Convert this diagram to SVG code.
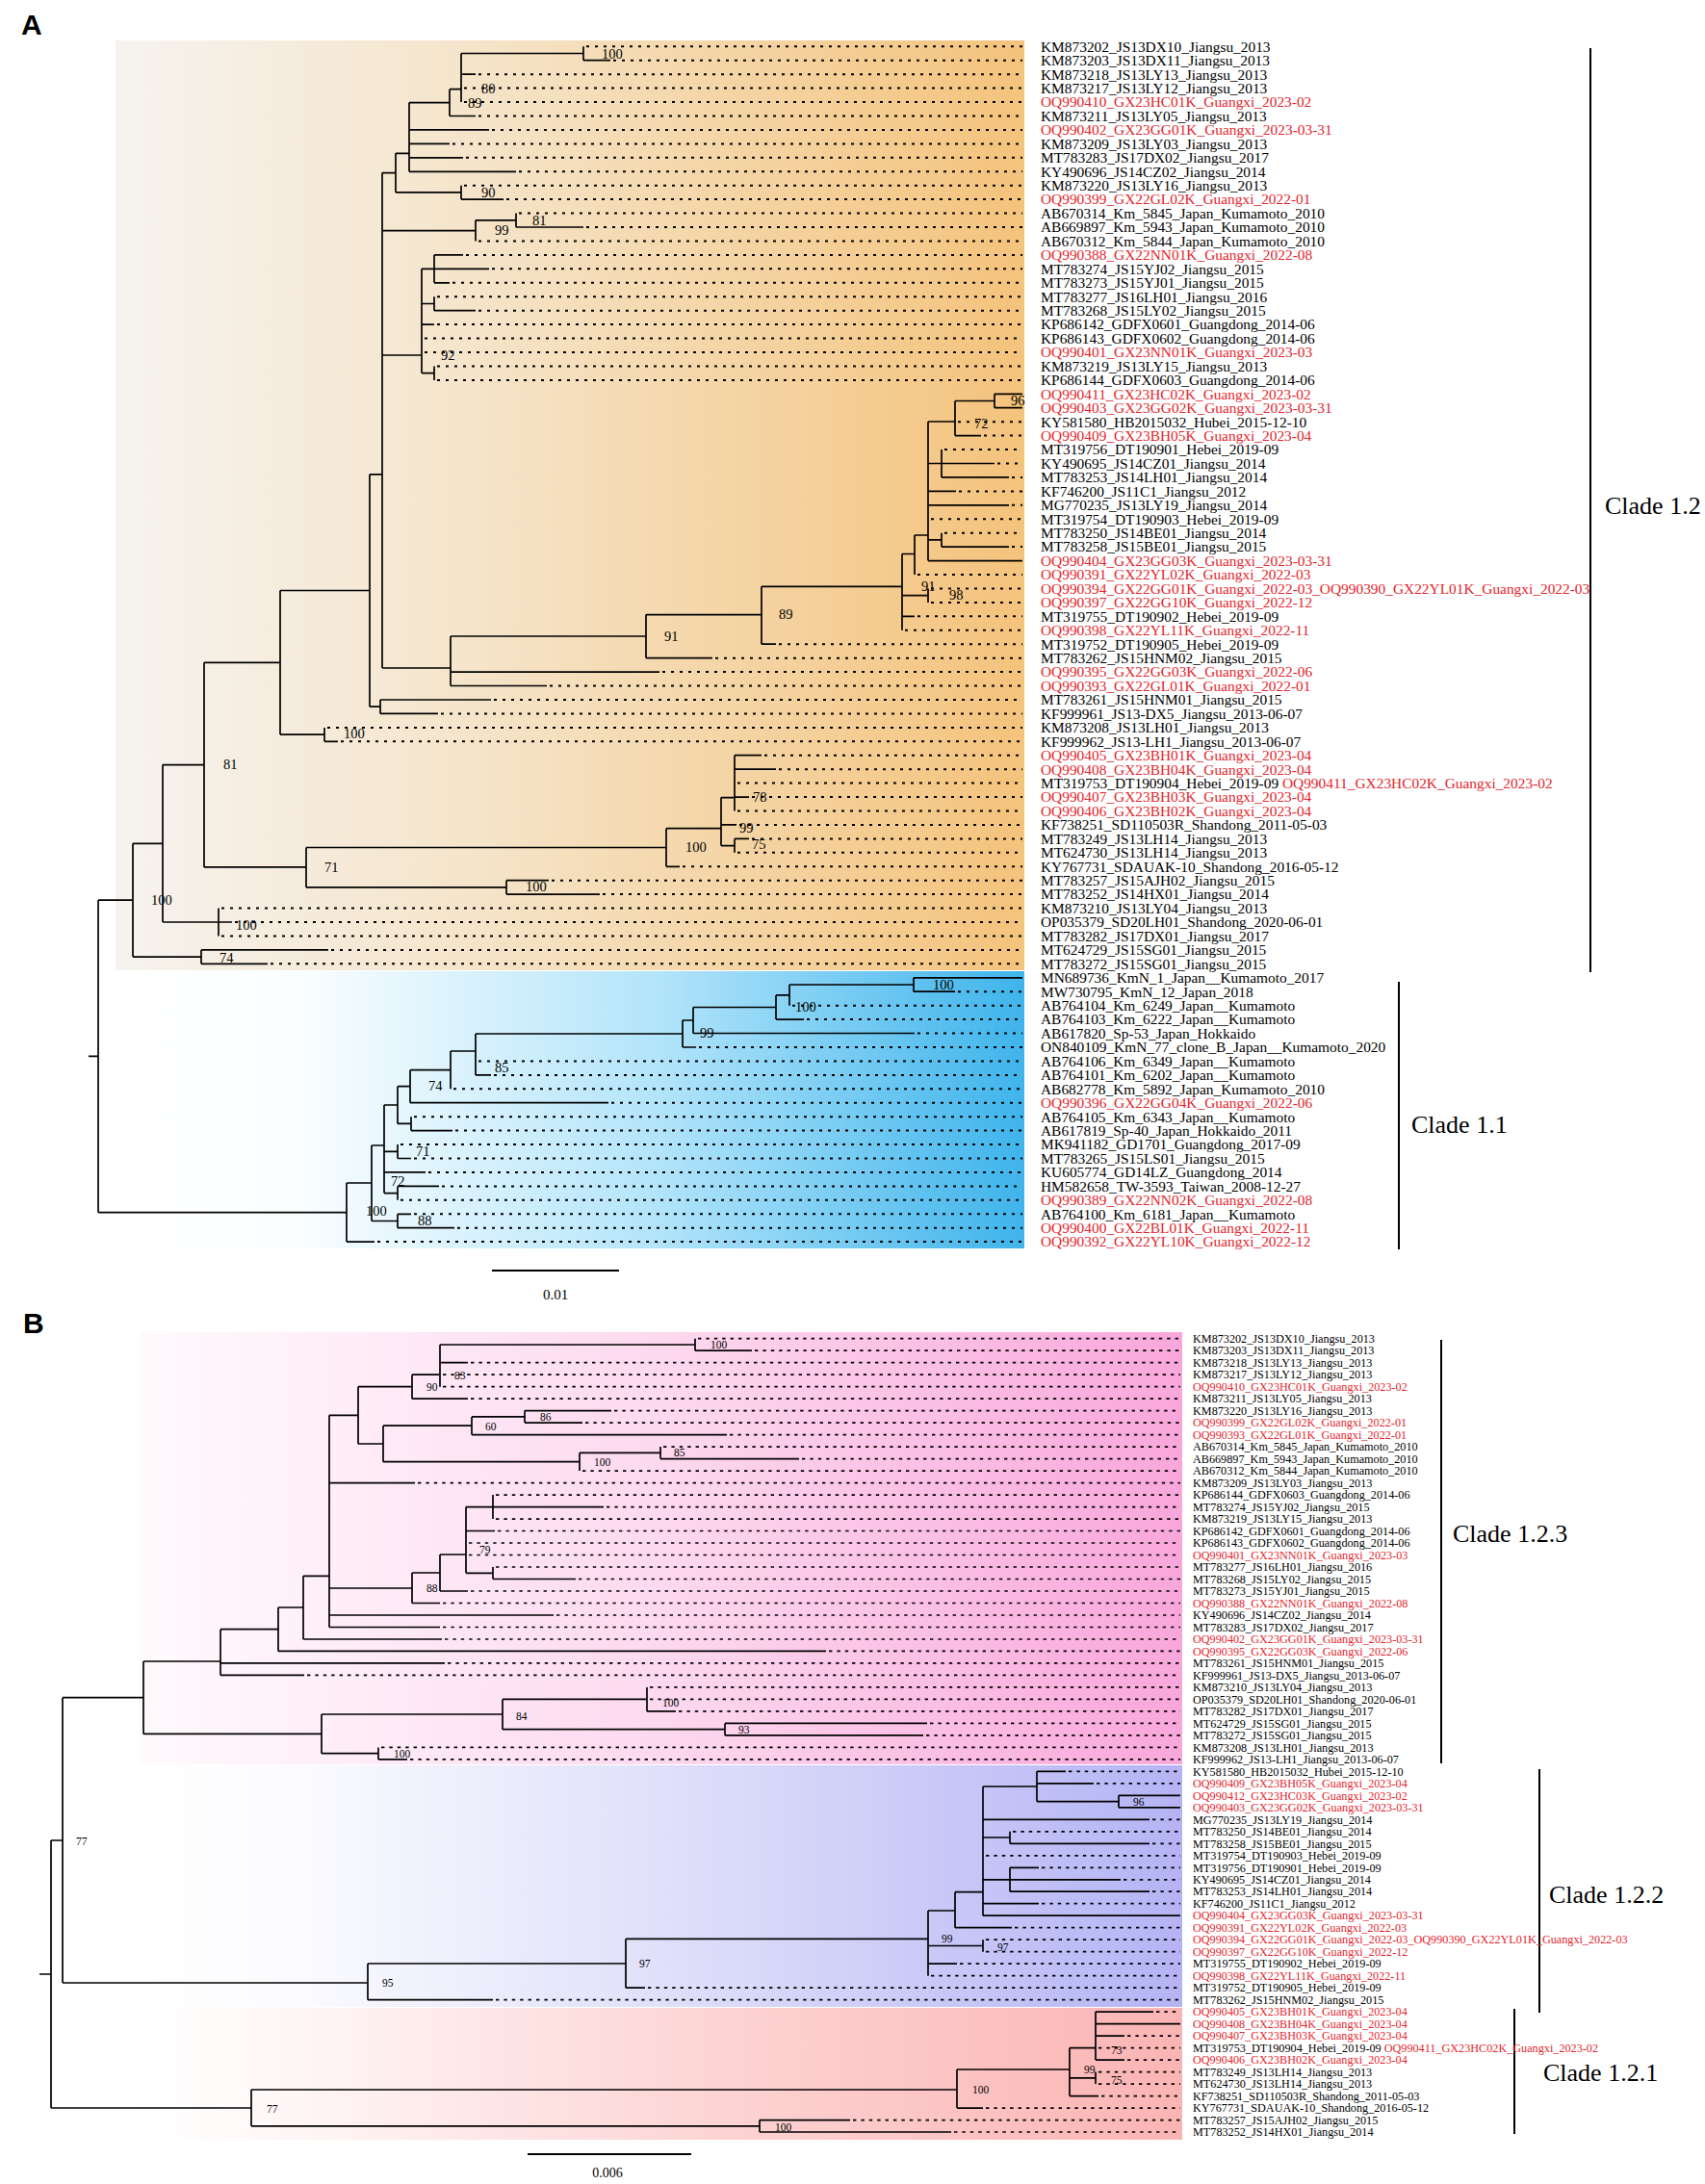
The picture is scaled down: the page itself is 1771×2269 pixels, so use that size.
<svg xmlns="http://www.w3.org/2000/svg" width="1771" height="2269" viewBox="0 0 1771 2269">
<defs>
<linearGradient id="gOr" x1="0" y1="0" x2="1" y2="0"><stop offset="0" stop-color="#f6f3ef"/><stop offset="0.4" stop-color="#f5e4c9"/><stop offset="1" stop-color="#f4c37c"/></linearGradient>
<linearGradient id="gBl" x1="0" y1="0" x2="1" y2="0"><stop offset="0" stop-color="#ffffff"/><stop offset="0.2" stop-color="#fbfeff"/><stop offset="0.6" stop-color="#b2e4fa"/><stop offset="1" stop-color="#3fb4eb"/></linearGradient>
<linearGradient id="gPk" x1="0" y1="0" x2="1" y2="0"><stop offset="0" stop-color="#fffafd"/><stop offset="0.5" stop-color="#fdd9ef"/><stop offset="1" stop-color="#f9a7db"/></linearGradient>
<linearGradient id="gPu" x1="0" y1="0" x2="1" y2="0"><stop offset="0" stop-color="#ffffff"/><stop offset="0.15" stop-color="#fbfbff"/><stop offset="0.55" stop-color="#dcdcfa"/><stop offset="1" stop-color="#b4b4f5"/></linearGradient>
<linearGradient id="gSa" x1="0" y1="0" x2="1" y2="0"><stop offset="0" stop-color="#ffffff"/><stop offset="0.15" stop-color="#fff6f6"/><stop offset="0.55" stop-color="#fdd4d4"/><stop offset="1" stop-color="#fbb4b4"/></linearGradient>
</defs>
<style>
.br{fill:none;stroke:#000;stroke-width:1.7}
.dt{fill:none;stroke:#000;stroke-width:2;stroke-dasharray:3 6}
.dtB{fill:none;stroke:#000;stroke-width:1.7;stroke-dasharray:3.4 5}
.bar{fill:none;stroke:#000;stroke-width:2}
text{font-family:"Liberation Serif","Times New Roman",serif;fill:#000}
.la{font-size:15.4px}
.lb{font-size:12.2px}
.r{fill:#e3262d}
.bs{font-size:14.5px}
.bsB{font-size:11.5px}
.cl{font-size:26px}
.pn{font-family:"Liberation Sans",Arial,sans-serif;font-weight:bold;font-size:30px}
</style>
<rect x="0" y="0" width="1771" height="2269" fill="#fff"/>
<g id="backgrounds">
<rect x="120" y="42" width="944" height="966" fill="url(#gOr)"/>
<rect x="120" y="1009" width="944" height="288" fill="url(#gBl)"/>
<rect x="145" y="1384" width="1083" height="449" fill="url(#gPk)"/>
<rect x="145" y="1834" width="1083" height="251" fill="url(#gPu)"/>
<rect x="145" y="2086" width="1083" height="137" fill="url(#gSa)"/>
</g>
<text class="pn" x="22" y="36">A</text>
<text class="pn" x="24" y="1385">B</text>
<g id="connectors">
<path class="br" d="M102 935.2V1259.6M138 876.3V994.1M169 794.6V958M212 688.3V900.9M291 613.5V763.1M384 492.8V734.2M395 727V741.4M397 179.6V694M411 159.3V199.9M425 106.6V178.3M467 92.7V120.5M479 55.5V106.1M606 48.3V62.7M479 192.7V207.1M494 228.8V250.5M536 221.6V236M438 279.3V387.6M451 264.9V293.8M451 308.2V322.7M451 380.4V394.9M468 661V712.5M671 638.6V683.7M791 609.3V669.2M937 575.5V654.8M950 556V597M964 438V582.6M992 416.5V452.6M1033 409.3V423.7M978 467.1V495.9M978 553.7V568.1M964 611.5V625.9M337 755.9V770.3M318 880.5V921.9M692 860.7V900.3M749 828.6V878.6M763 784.7V842.5M763 871.4V885.8M526 914.7V929.1M227 943.6V972.5M209 986.9V1001.3M360 1229V1290.1M386 1190V1268.5M399 1148V1239.6M413 1128.7V1167.4M426 1111.7V1145.7M468 1092V1131.3M494 1074V1116.9M709 1060V1088M720 1046.5V1073.5M806 1033.9V1059.1M820 1023V1044.7M949 1015.8V1030.2M427 1160.2V1174.6M413 1189.1V1203.5M413 1232.4V1246.8M413 1261.3V1275.7"/>
<path class="br" d="M92 1097.4H102M102 935.2H138M102 1259.6H360M138 876.3H169M138 994.1H209M169 794.6H212M169 958H227M212 688.3H291M212 900.9H318M291 613.5H384M291 763.1H337M384 492.8H397M384 734.2H395M397 179.6H411M397 239.6H494M397 369H438M397 694H468M411 159.3H425M411 199.9H479M425 106.6H467M467 92.7H479M479 55.5H606M494 228.8H536M438 279.3H451M438 315.5H451M438 387.6H451M468 661H671M671 638.6H791M791 609.3H937M937 575.5H950M937 618.7H964M950 556H964M964 438H992M964 481.5H978M964 560.9H978M992 416.5H1033M318 880.5H692M318 921.9H526M692 860.7H749M749 828.6H763M749 878.6H763M360 1229H386M386 1190H399M386 1268.5H413M399 1148H413M399 1196.3H413M399 1239.6H413M413 1128.7H426M413 1167.4H427M426 1111.7H468M468 1092H494M494 1074H709M709 1060H720M720 1046.5H806M806 1033.9H820M820 1023H949"/>
<path class="br" d="M606 62.7H634M479 77.2H494M467 120.5H494M425 134.9H508M425 149.4H467M425 163.8H481M425 178.3H536M479 207.1H523M536 236H606M451 264.9H481M451 279.3H508M451 293.8H467M451 322.7H494M438 337.1H451M1033 409.3H1062M1033 423.7H1062M992 452.6H1019M978 481.5H1033M978 495.9H1048M964 510.4H993M964 524.8H1048M978 568.1H1048M964 582.6H1062M937 640.3H950M791 669.2H806M671 683.7H740M468 698.1H685M468 712.5H568M395 727H510M395 741.4H455M337 770.3H351M763 784.7H791M763 799.2H806M763 828.1H778M749 856.9H765M763 871.4H778M692 900.3H706M526 914.7H570M526 929.1H623M227 958H241M209 986.9H341M209 1001.3H278M949 1015.8H1062M949 1030.2H992M806 1059.1H835M720 1073.5H950M709 1088H723M494 1116.9H510M426 1145.7H632M427 1174.6H470M413 1203.5H427M399 1217.9H442M413 1232.4H456M413 1261.3H427M413 1275.7H472M360 1290.1H389"/>
<path class="dt" d="M609 48.3H1062M637 62.7H1062M497 77.2H1062M482 91.6H1062M482 106.1H1062M497 120.5H1062M511 134.9H1062M470 149.4H1062M484 163.8H1062M539 178.3H1062M482 192.7H1062M526 207.1H1062M539 221.6H1062M609 236H1062M497 250.5H1062M484 264.9H1062M511 279.3H1062M470 293.8H1062M454 308.2H1062M497 322.7H1062M454 337.1H1062M441 351.5H1062M441 366H1062M454 380.4H1062M454 394.9H1062M995 438.2H1062M1022 452.6H1062M981 467.1H1062M1036 481.5H1062M1051 495.9H1062M996 510.4H1062M1051 524.8H1062M967 539.3H1062M981 553.7H1062M1051 568.1H1062M953 597H1062M967 611.5H1062M967 625.9H1062M953 640.3H1062M940 654.8H1062M809 669.2H1062M743 683.7H1062M688 698.1H1062M571 712.5H1062M513 727H1062M458 741.4H1062M340 755.9H1062M354 770.3H1062M794 784.7H1062M809 799.2H1062M766 813.6H1062M781 828.1H1062M766 842.5H1062M768 856.9H1062M781 871.4H1062M766 885.8H1062M709 900.3H1062M573 914.7H1062M626 929.1H1062M230 943.6H1062M244 958H1062M230 972.5H1062M344 986.9H1062M281 1001.3H1062M995 1030.2H1062M823 1044.7H1062M838 1059.1H1062M953 1073.5H1062M726 1088H1062M497 1102.4H1062M513 1116.9H1062M471 1131.3H1062M635 1145.7H1062M430 1160.2H1062M473 1174.6H1062M416 1189.1H1062M430 1203.5H1062M445 1217.9H1062M459 1232.4H1062M416 1246.8H1062M430 1261.3H1062M475 1275.7H1062M392 1290.1H1062"/>
<path class="br" d="M722 1390.7V1403.2M457 1397V1440.7M428 1428.2V1453.2M545 1465.6V1478.1M490 1471.9V1490.6M686 1503.1V1515.6M602 1509.4V1528.1M398 1481.2V1518.7M372 1440.7V1500M512 1553.1V1578.1M484 1565.6V1634.3M512 1628V1640.5M457 1615V1653M428 1634V1665.5M342 1470.3V1690.5M315 1637.3V1703M289 1670V1715.4M229 1692.7V1740.4M672 1752.9V1777.9M753 1790.4V1802.9M522 1765.4V1796.7M393 1815.4V1827.9M334 1781V1821.7M149 1726V1801.4M65 1763.7V2060M1162 1865.3V1877.8M1077 1840.3V1871.6M1049 1902.8V1915.3M1049 1940.3V1965.2M1021 1856V1990.2M992 1965.7V2002.7M1021 2015.2V2027.7M964 1985V2052.7M650 2014.3V2065.2M382 2040V2077.7M1138 2090.1V2140.1M1138 2152.6V2165.1M1111 2127.6V2177.6M994 2150V2190.1M789 2202.6V2215M261 2171V2208.8M53 1912V2190"/>
<path class="br" d="M41 2051H53M53 1912H65M53 2190H261M65 1763.7H149M65 2060H382M149 1726H229M149 1801.4H334M229 1692.7H289M289 1670H315M315 1637.3H342M342 1470.3H372M342 1650H428M372 1440.7H428M372 1500H398M428 1428.2H457M457 1397H722M398 1481.2H490M398 1518.7H602M490 1471.9H545M602 1509.4H686M428 1634H457M457 1615H484M484 1565.6H512M484 1634.3H512M334 1781H522M334 1821.7H393M522 1765.4H672M522 1796.7H753M382 2040H650M650 2014.3H964M964 1985H992M964 2021.5H1021M992 1965.7H1021M1021 1856H1077M1021 1909H1049M1021 1952.8H1049M1077 1871.6H1162M261 2171H994M261 2208.8H789M994 2150H1111M1111 2127.6H1138M1111 2158.9H1138"/>
<path class="br" d="M722 1403.2H781M457 1415.7H486M428 1453.2H486M545 1465.6H635M545 1478.1H605M490 1490.6H755M686 1515.6H830M342 1540.6H431M512 1565.6H627M484 1590.5H514M512 1640.5H598M457 1653H486M428 1665.5H457M342 1678H575M342 1690.5H457M315 1703H459M289 1715.4H858M229 1727.9H462M229 1740.4H316M672 1777.9H702M753 1790.4H963M753 1802.9H959M393 1827.9H423M1077 1840.3H1107M1077 1852.8H1136M1162 1865.3H1226M1162 1877.8H1226M1021 1890.3H1194M1049 1915.3H1194M1049 1940.3H1079M1049 1952.8H1164M1049 1965.2H1194M1021 1977.7H1079M1021 1990.2H1226M992 2002.7H1051M964 2040.2H994M650 2065.2H670M382 2077.7H512M1138 2090.1H1198M1138 2102.6H1226M1138 2115.1H1168M1138 2140.1H1168M1111 2177.6H1141M994 2190.1H1021M789 2202.6H883M789 2215H988"/>
<path class="dtB" d="M725 1390.7H1226M784 1403.2H1226M489 1415.7H1226M460 1428.2H1226M460 1440.7H1226M489 1453.2H1226M638 1465.6H1226M608 1478.1H1226M758 1490.6H1226M689 1503.1H1226M833 1515.6H1226M605 1528.1H1226M434 1540.6H1226M515 1553.1H1226M630 1565.6H1226M515 1578.1H1226M517 1590.5H1226M487 1603H1226M487 1615.5H1226M515 1628H1226M601 1640.5H1226M489 1653H1226M460 1665.5H1226M578 1678H1226M460 1690.5H1226M462 1703H1226M861 1715.4H1226M465 1727.9H1226M319 1740.4H1226M675 1752.9H1226M675 1765.4H1226M705 1777.9H1226M966 1790.4H1226M962 1802.9H1226M396 1815.4H1226M426 1827.9H1226M1110 1840.3H1226M1139 1852.8H1226M1197 1890.3H1226M1052 1902.8H1226M1197 1915.3H1226M1024 1927.8H1226M1082 1940.3H1226M1167 1952.8H1226M1197 1965.2H1226M1082 1977.7H1226M1054 2002.7H1226M1024 2015.2H1226M1024 2027.7H1226M997 2040.2H1226M967 2052.7H1226M673 2065.2H1226M515 2077.7H1226M1201 2090.1H1226M1171 2115.1H1226M1141 2127.6H1226M1171 2140.1H1226M1141 2152.6H1226M1141 2165.1H1226M1144 2177.6H1226M1024 2190.1H1226M886 2202.6H1226M991 2215H1226"/>
</g>
<g id="bootstrap-A">
<text class="bs" x="625" y="61">100</text><text class="bs" x="500" y="97">80</text><text class="bs" x="486" y="112">89</text><text class="bs" x="500" y="205">90</text><text class="bs" x="514" y="244">99</text><text class="bs" x="553" y="234">81</text><text class="bs" x="458" y="374">92</text><text class="bs" x="1050" y="421">96</text><text class="bs" x="1012" y="445">72</text><text class="bs" x="957" y="614">91</text><text class="bs" x="986" y="623">98</text><text class="bs" x="809" y="643">89</text><text class="bs" x="690" y="666">91</text><text class="bs" x="357" y="767">100</text><text class="bs" x="232" y="799">81</text><text class="bs" x="782" y="833">78</text><text class="bs" x="768" y="865">99</text><text class="bs" x="781" y="882">75</text><text class="bs" x="712" y="885">100</text><text class="bs" x="337" y="906">71</text><text class="bs" x="546" y="926">100</text><text class="bs" x="157" y="940">100</text><text class="bs" x="245" y="966">100</text><text class="bs" x="228" y="1000">74</text><text class="bs" x="969" y="1028">100</text><text class="bs" x="826" y="1051">100</text><text class="bs" x="727" y="1078">99</text><text class="bs" x="514" y="1114">85</text><text class="bs" x="445" y="1133">74</text><text class="bs" x="432" y="1201">71</text><text class="bs" x="406" y="1232">72</text><text class="bs" x="434" y="1273">88</text><text class="bs" x="380" y="1263">100</text>
</g>
<g id="bootstrap-B">
<text class="bsB" x="738" y="1401">100</text><text class="bsB" x="472" y="1433">83</text><text class="bsB" x="443" y="1445">90</text><text class="bsB" x="561" y="1476">86</text><text class="bsB" x="504" y="1486">60</text><text class="bsB" x="700" y="1513">85</text><text class="bsB" x="617" y="1523">100</text><text class="bsB" x="498" y="1614">79</text><text class="bsB" x="443" y="1654">88</text><text class="bsB" x="688" y="1773">100</text><text class="bsB" x="536" y="1787">84</text><text class="bsB" x="767" y="1801">93</text><text class="bsB" x="409" y="1826">100</text><text class="bsB" x="79" y="1917">77</text><text class="bsB" x="1177" y="1876">96</text><text class="bsB" x="978" y="2018">99</text><text class="bsB" x="1036" y="2027">97</text><text class="bsB" x="664" y="2044">97</text><text class="bsB" x="397" y="2064">95</text><text class="bsB" x="1154" y="2134">73</text><text class="bsB" x="1154" y="2165">75</text><text class="bsB" x="1126" y="2154">99</text><text class="bsB" x="1010" y="2175">100</text><text class="bsB" x="805" y="2214">100</text><text class="bsB" x="277" y="2195">77</text>
</g>
<g id="scale-bars">
<path class="bar" d="M511 1320H643M548 2238H718"/>
<text x="577" y="1350" font-size="15" text-anchor="middle">0.01</text>
<text x="631" y="2262" font-size="14" text-anchor="middle">0.006</text>
</g>
<g id="clades">
<g id="clade-1-2"><path class="bar" d="M1652 50V1010"/><text class="cl" x="1667" y="534">Clade 1.2</text></g>
<g id="clade-1-1"><path class="bar" d="M1453 1020V1298"/><text class="cl" x="1466" y="1177">Clade 1.1</text></g>
<g id="clade-1-2-3"><path class="bar" d="M1497 1392V1832"/><text class="cl" x="1509" y="1602">Clade 1.2.3</text></g>
<g id="clade-1-2-2"><path class="bar" d="M1599 1838V2091"/><text class="cl" x="1609" y="1977">Clade 1.2.2</text></g>
<g id="clade-1-2-1"><path class="bar" d="M1573 2087V2217"/><text class="cl" x="1603" y="2162">Clade 1.2.1</text></g>
</g>
<g id="leaves-A">
<g id="a01"><text class="la" x="1081" y="53.6">KM873202_JS13DX10_Jiangsu_2013</text></g>
<g id="a02"><text class="la" x="1081" y="68">KM873203_JS13DX11_Jiangsu_2013</text></g>
<g id="a03"><text class="la" x="1081" y="82.5">KM873218_JS13LY13_Jiangsu_2013</text></g>
<g id="a04"><text class="la" x="1081" y="96.9">KM873217_JS13LY12_Jiangsu_2013</text></g>
<g id="a05"><text class="la r" x="1081" y="111.4">OQ990410_GX23HC01K_Guangxi_2023-02</text></g>
<g id="a06"><text class="la" x="1081" y="125.8">KM873211_JS13LY05_Jiangsu_2013</text></g>
<g id="a07"><text class="la r" x="1081" y="140.2">OQ990402_GX23GG01K_Guangxi_2023-03-31</text></g>
<g id="a08"><text class="la" x="1081" y="154.7">KM873209_JS13LY03_Jiangsu_2013</text></g>
<g id="a09"><text class="la" x="1081" y="169.1">MT783283_JS17DX02_Jiangsu_2017</text></g>
<g id="a10"><text class="la" x="1081" y="183.6">KY490696_JS14CZ02_Jiangsu_2014</text></g>
<g id="a11"><text class="la" x="1081" y="198">KM873220_JS13LY16_Jiangsu_2013</text></g>
<g id="a12"><text class="la r" x="1081" y="212.4">OQ990399_GX22GL02K_Guangxi_2022-01</text></g>
<g id="a13"><text class="la" x="1081" y="226.9">AB670314_Km_5845_Japan_Kumamoto_2010</text></g>
<g id="a14"><text class="la" x="1081" y="241.3">AB669897_Km_5943_Japan_Kumamoto_2010</text></g>
<g id="a15"><text class="la" x="1081" y="255.8">AB670312_Km_5844_Japan_Kumamoto_2010</text></g>
<g id="a16"><text class="la r" x="1081" y="270.2">OQ990388_GX22NN01K_Guangxi_2022-08</text></g>
<g id="a17"><text class="la" x="1081" y="284.6">MT783274_JS15YJ02_Jiangsu_2015</text></g>
<g id="a18"><text class="la" x="1081" y="299.1">MT783273_JS15YJ01_Jiangsu_2015</text></g>
<g id="a19"><text class="la" x="1081" y="313.5">MT783277_JS16LH01_Jiangsu_2016</text></g>
<g id="a20"><text class="la" x="1081" y="328">MT783268_JS15LY02_Jiangsu_2015</text></g>
<g id="a21"><text class="la" x="1081" y="342.4">KP686142_GDFX0601_Guangdong_2014-06</text></g>
<g id="a22"><text class="la" x="1081" y="356.8">KP686143_GDFX0602_Guangdong_2014-06</text></g>
<g id="a23"><text class="la r" x="1081" y="371.3">OQ990401_GX23NN01K_Guangxi_2023-03</text></g>
<g id="a24"><text class="la" x="1081" y="385.7">KM873219_JS13LY15_Jiangsu_2013</text></g>
<g id="a25"><text class="la" x="1081" y="400.2">KP686144_GDFX0603_Guangdong_2014-06</text></g>
<g id="a26"><text class="la r" x="1081" y="414.6">OQ990411_GX23HC02K_Guangxi_2023-02</text></g>
<g id="a27"><text class="la r" x="1081" y="429">OQ990403_GX23GG02K_Guangxi_2023-03-31</text></g>
<g id="a28"><text class="la" x="1081" y="443.5">KY581580_HB2015032_Hubei_2015-12-10</text></g>
<g id="a29"><text class="la r" x="1081" y="457.9">OQ990409_GX23BH05K_Guangxi_2023-04</text></g>
<g id="a30"><text class="la" x="1081" y="472.4">MT319756_DT190901_Hebei_2019-09</text></g>
<g id="a31"><text class="la" x="1081" y="486.8">KY490695_JS14CZ01_Jiangsu_2014</text></g>
<g id="a32"><text class="la" x="1081" y="501.2">MT783253_JS14LH01_Jiangsu_2014</text></g>
<g id="a33"><text class="la" x="1081" y="515.7">KF746200_JS11C1_Jiangsu_2012</text></g>
<g id="a34"><text class="la" x="1081" y="530.1">MG770235_JS13LY19_Jiangsu_2014</text></g>
<g id="a35"><text class="la" x="1081" y="544.6">MT319754_DT190903_Hebei_2019-09</text></g>
<g id="a36"><text class="la" x="1081" y="559">MT783250_JS14BE01_Jiangsu_2014</text></g>
<g id="a37"><text class="la" x="1081" y="573.4">MT783258_JS15BE01_Jiangsu_2015</text></g>
<g id="a38"><text class="la r" x="1081" y="587.9">OQ990404_GX23GG03K_Guangxi_2023-03-31</text></g>
<g id="a39"><text class="la r" x="1081" y="602.3">OQ990391_GX22YL02K_Guangxi_2022-03</text></g>
<g id="a40"><text class="la r" x="1081" y="616.8">OQ990394_GX22GG01K_Guangxi_2022-03_OQ990390_GX22YL01K_Guangxi_2022-03</text></g>
<g id="a41"><text class="la r" x="1081" y="631.2">OQ990397_GX22GG10K_Guangxi_2022-12</text></g>
<g id="a42"><text class="la" x="1081" y="645.6">MT319755_DT190902_Hebei_2019-09</text></g>
<g id="a43"><text class="la r" x="1081" y="660.1">OQ990398_GX22YL11K_Guangxi_2022-11</text></g>
<g id="a44"><text class="la" x="1081" y="674.5">MT319752_DT190905_Hebei_2019-09</text></g>
<g id="a45"><text class="la" x="1081" y="689">MT783262_JS15HNM02_Jiangsu_2015</text></g>
<g id="a46"><text class="la r" x="1081" y="703.4">OQ990395_GX22GG03K_Guangxi_2022-06</text></g>
<g id="a47"><text class="la r" x="1081" y="717.8">OQ990393_GX22GL01K_Guangxi_2022-01</text></g>
<g id="a48"><text class="la" x="1081" y="732.3">MT783261_JS15HNM01_Jiangsu_2015</text></g>
<g id="a49"><text class="la" x="1081" y="746.7">KF999961_JS13-DX5_Jiangsu_2013-06-07</text></g>
<g id="a50"><text class="la" x="1081" y="761.2">KM873208_JS13LH01_Jiangsu_2013</text></g>
<g id="a51"><text class="la" x="1081" y="775.6">KF999962_JS13-LH1_Jiangsu_2013-06-07</text></g>
<g id="a52"><text class="la r" x="1081" y="790">OQ990405_GX23BH01K_Guangxi_2023-04</text></g>
<g id="a53"><text class="la r" x="1081" y="804.5">OQ990408_GX23BH04K_Guangxi_2023-04</text></g>
<g id="a54"><text class="la" x="1081" y="818.9">MT319753_DT190904_Hebei_2019-09 <tspan class="r">OQ990411_GX23HC02K_Guangxi_2023-02</tspan></text></g>
<g id="a55"><text class="la r" x="1081" y="833.4">OQ990407_GX23BH03K_Guangxi_2023-04</text></g>
<g id="a56"><text class="la r" x="1081" y="847.8">OQ990406_GX23BH02K_Guangxi_2023-04</text></g>
<g id="a57"><text class="la" x="1081" y="862.2">KF738251_SD110503R_Shandong_2011-05-03</text></g>
<g id="a58"><text class="la" x="1081" y="876.7">MT783249_JS13LH14_Jiangsu_2013</text></g>
<g id="a59"><text class="la" x="1081" y="891.1">MT624730_JS13LH14_Jiangsu_2013</text></g>
<g id="a60"><text class="la" x="1081" y="905.6">KY767731_SDAUAK-10_Shandong_2016-05-12</text></g>
<g id="a61"><text class="la" x="1081" y="920">MT783257_JS15AJH02_Jiangsu_2015</text></g>
<g id="a62"><text class="la" x="1081" y="934.4">MT783252_JS14HX01_Jiangsu_2014</text></g>
<g id="a63"><text class="la" x="1081" y="948.9">KM873210_JS13LY04_Jiangsu_2013</text></g>
<g id="a64"><text class="la" x="1081" y="963.3">OP035379_SD20LH01_Shandong_2020-06-01</text></g>
<g id="a65"><text class="la" x="1081" y="977.8">MT783282_JS17DX01_Jiangsu_2017</text></g>
<g id="a66"><text class="la" x="1081" y="992.2">MT624729_JS15SG01_Jiangsu_2015</text></g>
<g id="a67"><text class="la" x="1081" y="1006.6">MT783272_JS15SG01_Jiangsu_2015</text></g>
<g id="a68"><text class="la" x="1081" y="1021.1">MN689736_KmN_1_Japan__Kumamoto_2017</text></g>
<g id="a69"><text class="la" x="1081" y="1035.5">MW730795_KmN_12_Japan_2018</text></g>
<g id="a70"><text class="la" x="1081" y="1050">AB764104_Km_6249_Japan__Kumamoto</text></g>
<g id="a71"><text class="la" x="1081" y="1064.4">AB764103_Km_6222_Japan__Kumamoto</text></g>
<g id="a72"><text class="la" x="1081" y="1078.8">AB617820_Sp-53_Japan_Hokkaido</text></g>
<g id="a73"><text class="la" x="1081" y="1093.3">ON840109_KmN_77_clone_B_Japan__Kumamoto_2020</text></g>
<g id="a74"><text class="la" x="1081" y="1107.7">AB764106_Km_6349_Japan__Kumamoto</text></g>
<g id="a75"><text class="la" x="1081" y="1122.2">AB764101_Km_6202_Japan__Kumamoto</text></g>
<g id="a76"><text class="la" x="1081" y="1136.6">AB682778_Km_5892_Japan_Kumamoto_2010</text></g>
<g id="a77"><text class="la r" x="1081" y="1151">OQ990396_GX22GG04K_Guangxi_2022-06</text></g>
<g id="a78"><text class="la" x="1081" y="1165.5">AB764105_Km_6343_Japan__Kumamoto</text></g>
<g id="a79"><text class="la" x="1081" y="1179.9">AB617819_Sp-40_Japan_Hokkaido_2011</text></g>
<g id="a80"><text class="la" x="1081" y="1194.4">MK941182_GD1701_Guangdong_2017-09</text></g>
<g id="a81"><text class="la" x="1081" y="1208.8">MT783265_JS15LS01_Jiangsu_2015</text></g>
<g id="a82"><text class="la" x="1081" y="1223.2">KU605774_GD14LZ_Guangdong_2014</text></g>
<g id="a83"><text class="la" x="1081" y="1237.7">HM582658_TW-3593_Taiwan_2008-12-27</text></g>
<g id="a84"><text class="la r" x="1081" y="1252.1">OQ990389_GX22NN02K_Guangxi_2022-08</text></g>
<g id="a85"><text class="la" x="1081" y="1266.6">AB764100_Km_6181_Japan__Kumamoto</text></g>
<g id="a86"><text class="la r" x="1081" y="1281">OQ990400_GX22BL01K_Guangxi_2022-11</text></g>
<g id="a87"><text class="la r" x="1081" y="1295.4">OQ990392_GX22YL10K_Guangxi_2022-12</text></g>
</g>
<g id="leaves-B">
<g id="b01"><text class="lb" x="1239" y="1394.9">KM873202_JS13DX10_Jiangsu_2013</text></g>
<g id="b02"><text class="lb" x="1239" y="1407.4">KM873203_JS13DX11_Jiangsu_2013</text></g>
<g id="b03"><text class="lb" x="1239" y="1419.9">KM873218_JS13LY13_Jiangsu_2013</text></g>
<g id="b04"><text class="lb" x="1239" y="1432.4">KM873217_JS13LY12_Jiangsu_2013</text></g>
<g id="b05"><text class="lb r" x="1239" y="1444.9">OQ990410_GX23HC01K_Guangxi_2023-02</text></g>
<g id="b06"><text class="lb" x="1239" y="1457.4">KM873211_JS13LY05_Jiangsu_2013</text></g>
<g id="b07"><text class="lb" x="1239" y="1469.8">KM873220_JS13LY16_Jiangsu_2013</text></g>
<g id="b08"><text class="lb r" x="1239" y="1482.3">OQ990399_GX22GL02K_Guangxi_2022-01</text></g>
<g id="b09"><text class="lb r" x="1239" y="1494.8">OQ990393_GX22GL01K_Guangxi_2022-01</text></g>
<g id="b10"><text class="lb" x="1239" y="1507.3">AB670314_Km_5845_Japan_Kumamoto_2010</text></g>
<g id="b11"><text class="lb" x="1239" y="1519.8">AB669897_Km_5943_Japan_Kumamoto_2010</text></g>
<g id="b12"><text class="lb" x="1239" y="1532.3">AB670312_Km_5844_Japan_Kumamoto_2010</text></g>
<g id="b13"><text class="lb" x="1239" y="1544.8">KM873209_JS13LY03_Jiangsu_2013</text></g>
<g id="b14"><text class="lb" x="1239" y="1557.3">KP686144_GDFX0603_Guangdong_2014-06</text></g>
<g id="b15"><text class="lb" x="1239" y="1569.8">MT783274_JS15YJ02_Jiangsu_2015</text></g>
<g id="b16"><text class="lb" x="1239" y="1582.3">KM873219_JS13LY15_Jiangsu_2013</text></g>
<g id="b17"><text class="lb" x="1239" y="1594.7">KP686142_GDFX0601_Guangdong_2014-06</text></g>
<g id="b18"><text class="lb" x="1239" y="1607.2">KP686143_GDFX0602_Guangdong_2014-06</text></g>
<g id="b19"><text class="lb r" x="1239" y="1619.7">OQ990401_GX23NN01K_Guangxi_2023-03</text></g>
<g id="b20"><text class="lb" x="1239" y="1632.2">MT783277_JS16LH01_Jiangsu_2016</text></g>
<g id="b21"><text class="lb" x="1239" y="1644.7">MT783268_JS15LY02_Jiangsu_2015</text></g>
<g id="b22"><text class="lb" x="1239" y="1657.2">MT783273_JS15YJ01_Jiangsu_2015</text></g>
<g id="b23"><text class="lb r" x="1239" y="1669.7">OQ990388_GX22NN01K_Guangxi_2022-08</text></g>
<g id="b24"><text class="lb" x="1239" y="1682.2">KY490696_JS14CZ02_Jiangsu_2014</text></g>
<g id="b25"><text class="lb" x="1239" y="1694.7">MT783283_JS17DX02_Jiangsu_2017</text></g>
<g id="b26"><text class="lb r" x="1239" y="1707.2">OQ990402_GX23GG01K_Guangxi_2023-03-31</text></g>
<g id="b27"><text class="lb r" x="1239" y="1719.6">OQ990395_GX22GG03K_Guangxi_2022-06</text></g>
<g id="b28"><text class="lb" x="1239" y="1732.1">MT783261_JS15HNM01_Jiangsu_2015</text></g>
<g id="b29"><text class="lb" x="1239" y="1744.6">KF999961_JS13-DX5_Jiangsu_2013-06-07</text></g>
<g id="b30"><text class="lb" x="1239" y="1757.1">KM873210_JS13LY04_Jiangsu_2013</text></g>
<g id="b31"><text class="lb" x="1239" y="1769.6">OP035379_SD20LH01_Shandong_2020-06-01</text></g>
<g id="b32"><text class="lb" x="1239" y="1782.1">MT783282_JS17DX01_Jiangsu_2017</text></g>
<g id="b33"><text class="lb" x="1239" y="1794.6">MT624729_JS15SG01_Jiangsu_2015</text></g>
<g id="b34"><text class="lb" x="1239" y="1807.1">MT783272_JS15SG01_Jiangsu_2015</text></g>
<g id="b35"><text class="lb" x="1239" y="1819.6">KM873208_JS13LH01_Jiangsu_2013</text></g>
<g id="b36"><text class="lb" x="1239" y="1832.1">KF999962_JS13-LH1_Jiangsu_2013-06-07</text></g>
<g id="b37"><text class="lb" x="1239" y="1844.5">KY581580_HB2015032_Hubei_2015-12-10</text></g>
<g id="b38"><text class="lb r" x="1239" y="1857">OQ990409_GX23BH05K_Guangxi_2023-04</text></g>
<g id="b39"><text class="lb r" x="1239" y="1869.5">OQ990412_GX23HC03K_Guangxi_2023-02</text></g>
<g id="b40"><text class="lb r" x="1239" y="1882">OQ990403_GX23GG02K_Guangxi_2023-03-31</text></g>
<g id="b41"><text class="lb" x="1239" y="1894.5">MG770235_JS13LY19_Jiangsu_2014</text></g>
<g id="b42"><text class="lb" x="1239" y="1907">MT783250_JS14BE01_Jiangsu_2014</text></g>
<g id="b43"><text class="lb" x="1239" y="1919.5">MT783258_JS15BE01_Jiangsu_2015</text></g>
<g id="b44"><text class="lb" x="1239" y="1932">MT319754_DT190903_Hebei_2019-09</text></g>
<g id="b45"><text class="lb" x="1239" y="1944.5">MT319756_DT190901_Hebei_2019-09</text></g>
<g id="b46"><text class="lb" x="1239" y="1957">KY490695_JS14CZ01_Jiangsu_2014</text></g>
<g id="b47"><text class="lb" x="1239" y="1969.4">MT783253_JS14LH01_Jiangsu_2014</text></g>
<g id="b48"><text class="lb" x="1239" y="1981.9">KF746200_JS11C1_Jiangsu_2012</text></g>
<g id="b49"><text class="lb r" x="1239" y="1994.4">OQ990404_GX23GG03K_Guangxi_2023-03-31</text></g>
<g id="b50"><text class="lb r" x="1239" y="2006.9">OQ990391_GX22YL02K_Guangxi_2022-03</text></g>
<g id="b51"><text class="lb r" x="1239" y="2019.4">OQ990394_GX22GG01K_Guangxi_2022-03_OQ990390_GX22YL01K_Guangxi_2022-03</text></g>
<g id="b52"><text class="lb r" x="1239" y="2031.9">OQ990397_GX22GG10K_Guangxi_2022-12</text></g>
<g id="b53"><text class="lb" x="1239" y="2044.4">MT319755_DT190902_Hebei_2019-09</text></g>
<g id="b54"><text class="lb r" x="1239" y="2056.9">OQ990398_GX22YL11K_Guangxi_2022-11</text></g>
<g id="b55"><text class="lb" x="1239" y="2069.4">MT319752_DT190905_Hebei_2019-09</text></g>
<g id="b56"><text class="lb" x="1239" y="2081.9">MT783262_JS15HNM02_Jiangsu_2015</text></g>
<g id="b57"><text class="lb r" x="1239" y="2094.3">OQ990405_GX23BH01K_Guangxi_2023-04</text></g>
<g id="b58"><text class="lb r" x="1239" y="2106.8">OQ990408_GX23BH04K_Guangxi_2023-04</text></g>
<g id="b59"><text class="lb r" x="1239" y="2119.3">OQ990407_GX23BH03K_Guangxi_2023-04</text></g>
<g id="b60"><text class="lb" x="1239" y="2131.8">MT319753_DT190904_Hebei_2019-09 <tspan class="r">OQ990411_GX23HC02K_Guangxi_2023-02</tspan></text></g>
<g id="b61"><text class="lb r" x="1239" y="2144.3">OQ990406_GX23BH02K_Guangxi_2023-04</text></g>
<g id="b62"><text class="lb" x="1239" y="2156.8">MT783249_JS13LH14_Jiangsu_2013</text></g>
<g id="b63"><text class="lb" x="1239" y="2169.3">MT624730_JS13LH14_Jiangsu_2013</text></g>
<g id="b64"><text class="lb" x="1239" y="2181.8">KF738251_SD110503R_Shandong_2011-05-03</text></g>
<g id="b65"><text class="lb" x="1239" y="2194.3">KY767731_SDAUAK-10_Shandong_2016-05-12</text></g>
<g id="b66"><text class="lb" x="1239" y="2206.8">MT783257_JS15AJH02_Jiangsu_2015</text></g>
<g id="b67"><text class="lb" x="1239" y="2219.2">MT783252_JS14HX01_Jiangsu_2014</text></g>
</g>
</svg>
